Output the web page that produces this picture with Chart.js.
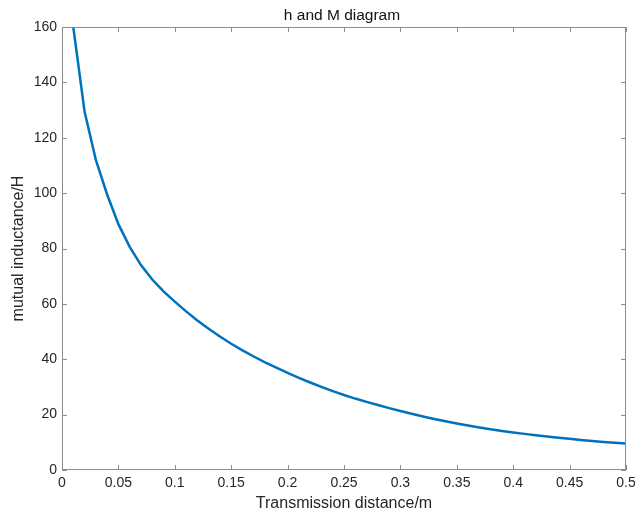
<!DOCTYPE html>
<html>
<head>
<meta charset="utf-8">
<title>h and M diagram</title>
<script src="https://cdn.jsdelivr.net/npm/chart.js@4.4.1/dist/chart.umd.min.js"></script>
<style>
  html, body { margin: 0; padding: 0; background: #fff; }
  #wrap { width: 635px; height: 513px; }
</style>
</head>
<body>
<div id="wrap"><canvas id="hmChart"></canvas></div>
<script>
// transmission distance h (m)
var distance = [
  0.01, 0.02, 0.03, 0.04, 0.05, 0.06, 0.07, 0.08, 0.09, 0.10,
  0.11, 0.12, 0.13, 0.14, 0.15, 0.16, 0.17, 0.18, 0.19, 0.20,
  0.21, 0.22, 0.23, 0.24, 0.25, 0.26, 0.27, 0.28, 0.29, 0.30,
  0.31, 0.32, 0.33, 0.34, 0.35, 0.36, 0.37, 0.38, 0.39, 0.40,
  0.41, 0.42, 0.43, 0.44, 0.45, 0.46, 0.47, 0.48, 0.49, 0.50
];
// mutual inductance M
var inductance = [
  160, 129.5, 112, 99.5, 88.8, 80.6, 74.0, 68.8, 64.5, 60.8,
  57.3, 54.0, 51.0, 48.2, 45.6, 43.2, 41.0, 38.9, 37.0, 35.1,
  33.3, 31.6, 30.0, 28.5, 27.1, 25.8, 24.6, 23.45, 22.35, 21.3,
  20.3, 19.35, 18.45, 17.6, 16.8, 16.05, 15.35, 14.7, 14.1, 13.55,
  13.05, 12.55, 12.1, 11.65, 11.25, 10.85, 10.5, 10.15, 9.85, 9.55
];
var xTicks = [0, 0.05, 0.1, 0.15, 0.2, 0.25, 0.3, 0.35, 0.4, 0.45, 0.5];
var yTicks = [0, 20, 40, 60, 80, 100, 120, 140, 160];

var points = [];
for (var i in distance) {
  points.push({x: distance[i], y: inductance[i]});
}

var fontFam = '"Liberation Sans", Arial, Helvetica, sans-serif';

// matlab style box, inward ticks and title
var boxPlugin = {
  id: 'matlabBox',
  afterDraw: function(chart) {
    var ctx = chart.ctx;
    var a = chart.chartArea;
    var xs = chart.scales.x, ys = chart.scales.y;
    var len = 5;
    ctx.save();
    ctx.strokeStyle = '#8c8c8c';
    ctx.lineWidth = 1;
    ctx.strokeRect(a.left + 0.5, a.top + 0.5, a.right - a.left - 1, a.bottom - a.top - 1);
    ctx.beginPath();
    xTicks.forEach(function(v) {
      var px = Math.round(xs.getPixelForValue(v)) + 0.5;
      ctx.moveTo(px, a.bottom); ctx.lineTo(px, a.bottom - len);
      ctx.moveTo(px, a.top); ctx.lineTo(px, a.top + len);
    });
    yTicks.forEach(function(v) {
      var py = Math.round(ys.getPixelForValue(v)) + 0.5;
      ctx.moveTo(a.left, py); ctx.lineTo(a.left + len, py);
      ctx.moveTo(a.right, py); ctx.lineTo(a.right - len, py);
    });
    ctx.stroke();
    ctx.fillStyle = '#111';
    ctx.font = '15.5px ' + fontFam;
    ctx.textAlign = 'center';
    ctx.textBaseline = 'middle';
    ctx.fillText('h and M diagram', (a.left + a.right) / 2 - 2, 16);
    ctx.restore();
  }
};

const hmCanvas = document.getElementById('hmChart');

let hmChart = new Chart(hmCanvas, {
  type: 'line',
  data: {
    datasets: [{
      label: 'M',
      data: points,
      borderColor: '#0072BD',
      borderWidth: 2.5,
      pointRadius: 0,
      tension: 0,
      fill: false
    }]
  },
  options: {
    responsive: true,
    maintainAspectRatio: false,
    animation: false,
    layout: { padding: { left: 0, right: 9, top: 27, bottom: 0 } },
    plugins: {
      legend: { display: false },
      tooltip: { enabled: false }
    },
    scales: {
      x: {
        type: 'linear',
        min: 0,
        max: 0.5,
        grid: { display: false, drawTicks: false },
        border: { display: false },
        afterBuildTicks: function(s) { s.ticks = xTicks.map(function(v) { return {value: v}; }); },
        afterFit: function(s) { s.height = 43; s.paddingLeft = 0; s.paddingRight = 0; },
        ticks: {
          padding: 5,
          color: '#262626',
          font: { family: fontFam, size: 14 },
          maxRotation: 0,
          callback: function(v) { return String(+v.toFixed(2)); }
        },
        title: {
          display: true,
          text: 'Transmission distance/m',
          color: '#262626',
          font: { family: fontFam, size: 16 },
          padding: { top: 0, bottom: 0 }
        }
      },
      y: {
        min: 0,
        max: 160,
        grid: { display: false, drawTicks: false },
        border: { display: false },
        afterBuildTicks: function(s) { s.ticks = yTicks.map(function(v) { return {value: v}; }); },
        afterFit: function(s) { s.width = 62; },
        ticks: {
          padding: 5,
          color: '#262626',
          font: { family: fontFam, size: 14 }
        },
        title: {
          display: true,
          text: 'mutual inductance/H',
          color: '#262626',
          font: { family: fontFam, size: 16 },
          padding: { top: 9, bottom: 0 }
        }
      }
    }
  },
  plugins: [boxPlugin]
});
</script>
</body>
</html>
